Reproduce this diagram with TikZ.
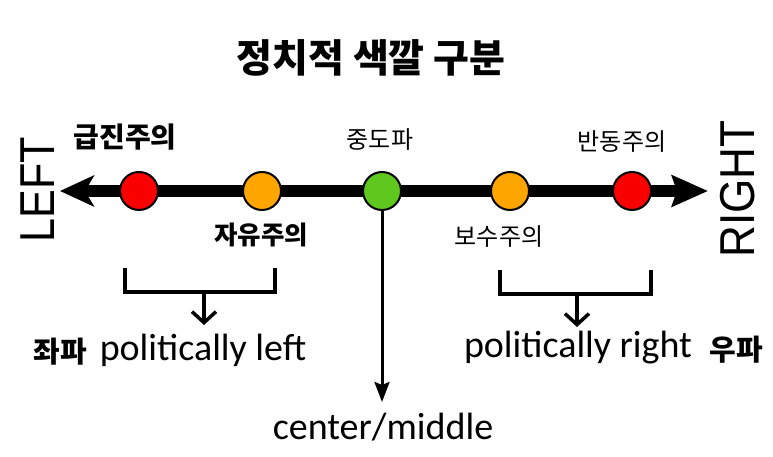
\documentclass[tikz,border=0pt]{standalone}
\usepackage{fontspec}
\setmainfont{Carlito}
\newfontfamily\kr{Noto Sans CJK KR}
\newfontfamily\arialf{Liberation Sans}
\usetikzlibrary{arrows.meta}
\definecolor{dotred}{RGB}{250,0,0}
\definecolor{dotorange}{RGB}{255,165,0}
\definecolor{dotgreen}{RGB}{95,200,30}
\tikzset{
  dot/.style={circle,draw,line width=2pt,minimum size=38pt,inner sep=0pt},
  krlab/.style={inner sep=0pt,font=\kr\fontsize{24}{27}\selectfont},
  krbold/.style={inner sep=0pt,font=\kr\bfseries\fontsize{25.5}{28}\selectfont},
  enlab/.style={inner sep=0pt,font=\fontsize{38}{42}\selectfont},
  side/.style={inner sep=0pt,rotate=90,font=\arialf\fontsize{49}{52}\selectfont},
  bracket/.style={line width=3.5pt},
  pick/.style={line width=3.5pt,-{Straight Barb[length=11pt,width=24pt,line width=3.5pt]}}
}
\begin{document}
\begin{tikzpicture}[x=1pt,y=1pt]
\useasboundingbox (0,0) rectangle(773,457);
\node[inner sep=0pt,font=\kr\bfseries\fontsize{39}{44}\selectfont] (title) at(371,399) {정치적 색깔 구분};
% eixo
\coordinate (ltip) at(60,266);
\coordinate (rtip) at(708,266);
\draw[line width=12pt,{Stealth[length=34pt,width=31pt,inset=9pt]}-{Stealth[length=36pt,width=31pt,inset=5pt]}] (ltip) -- (rtip);
\node[dot,fill=dotred] (l2) at(139,266) {};
\node[dot,fill=dotorange] (l1) at(262,266) {};
\node[dot,fill=dotgreen] (m) at(382,266) {};
\node[dot,fill=dotorange] (r1) at(510,266) {};
\node[dot,fill=dotred] (r2) at(632,266) {};
\node[side] (left) at(38,267) {\scalebox{0.88}[1]{LEFT}};
\node[side] (right) at(738,268) {\scalebox{0.9}[1]{RIGHT}};
\node[krbold,font=\kr\bfseries\fontsize{28}{31}\selectfont] (radical) at(125,320) {급진주의};
\node[krlab] (center) at(380,317) {중도파};
\node[krlab] (reaction) at(622,315) {반동주의};
\node[krbold] (liberal) at(261,222) {자유주의};
\node[krlab] (conserv) at(499,220) {보수주의};
% chaves
\draw[bracket] (125,189) |- (275,165) -- (275,189);
\coordinate (lb) at(204,165);
\coordinate (lbend) at(204,132);
\draw[pick] (lb) -- (lbend);
\draw[bracket] (500,187) |- (651,163) -- (651,187);
\coordinate (rb) at(577,163);
\coordinate (rbend) at(577,130);
\draw[pick] (rb) -- (rbend);
\coordinate (mend) at(382,55);
\draw[line width=3pt,-{Stealth[length=20pt,width=15pt,inset=3pt]}] (m.south) -- (mend);
\node[krbold,font=\kr\bfseries\fontsize{29}{32}\selectfont] (leftkr) at(60,105) {좌파};
\node[enlab] (poleft) at(203,107) {politically left};
\node[enlab] (poright) at(578,109) {politically right};
\node[krbold,font=\kr\bfseries\fontsize{29}{32}\selectfont] (rightkr) at(736,107) {우파};
\node[enlab] (middle) at(383,30) {center/middle};
%\draw (0,0) rectangle(773,457);
\end{tikzpicture}
\end{document}
